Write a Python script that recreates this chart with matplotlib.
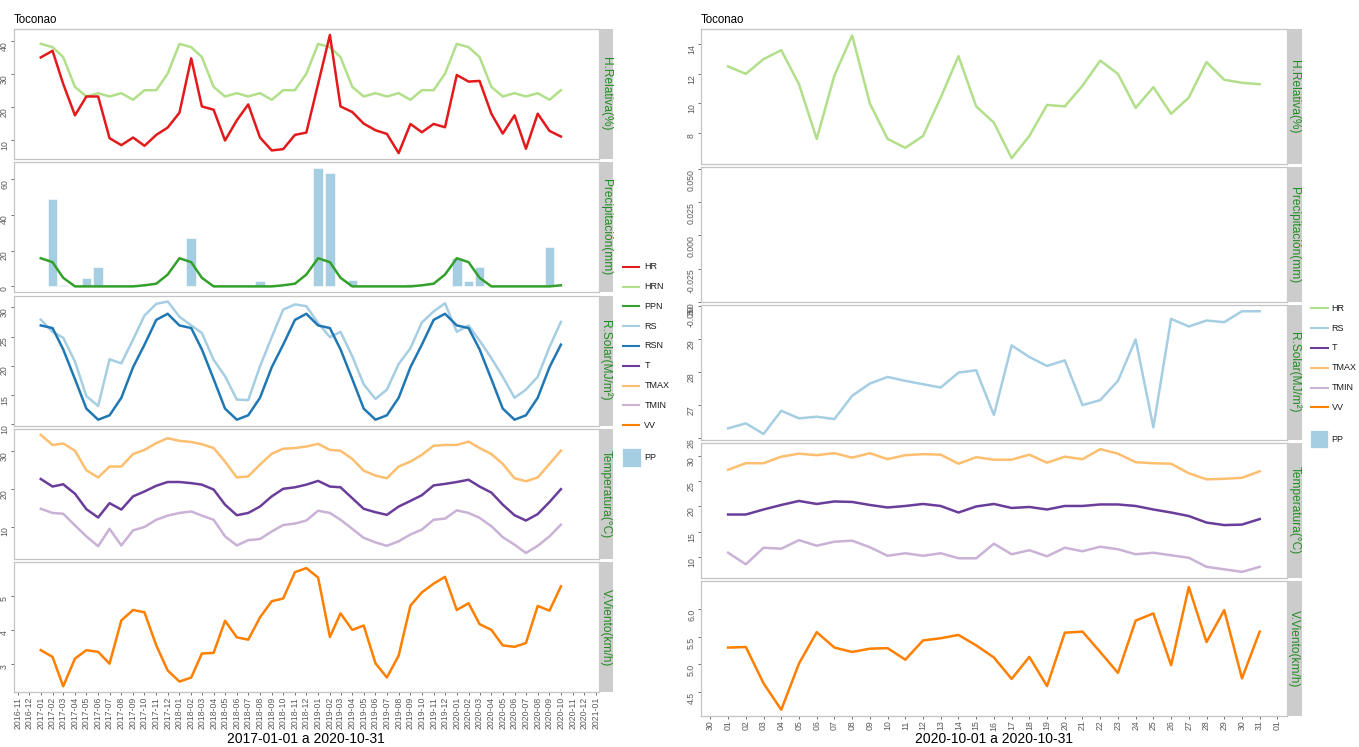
import datetime as dt
import numpy as np
import pandas as pd
import matplotlib
matplotlib.use("Agg")
import matplotlib.pyplot as plt
from matplotlib.lines import Line2D
from matplotlib.patches import Rectangle

plt.rcParams['font.family'] = ['Liberation Sans', 'DejaVu Sans']

# ---------------- monthly data (left chart) ----------------
months = pd.date_range("2017-01-01", "2020-10-01", freq="MS")
HR = [35.0, 37.0, 27.0, 17.5, 23.2, 23.2, 10.6, 8.5, 10.8, 8.3,
      11.6, 13.8, 18.3, 34.7, 20.2, 19.2, 9.9, 16.0, 20.8, 10.8,
      6.9, 7.3, 11.6, 12.3, 27.0, 41.8, 20.2, 18.5, 15.0, 13.0,
      11.9, 6.1, 14.9, 12.4, 14.9, 13.9, 29.7, 27.7, 27.9, 18.0,
      12.0, 17.5, 7.4, 18.0, 12.8, 11.1]
HRN = [39.1, 38.1, 35.1, 26.1, 23.2, 24.2, 23.2, 24.2, 22.2, 25.1, 25.1, 30.1,
       39.1, 38.1, 35.1, 26.1, 23.2, 24.2, 23.2, 24.2, 22.2, 25.1, 25.1, 30.1,
       39.1, 38.1, 35.1, 26.1, 23.2, 24.2, 23.2, 24.2, 22.2, 25.1, 25.1, 30.1,
       39.1, 38.1, 35.1, 26.1, 23.2, 24.2, 23.2, 24.2, 22.2, 25.1]
PP_months = ["2017-02-01", "2017-03-01", "2017-05-01", "2017-06-01", "2017-07-01",
             "2018-01-01", "2018-02-01", "2018-08-01", "2018-09-01", "2019-01-01",
             "2019-02-01", "2019-04-01", "2019-09-01", "2019-12-01", "2020-01-01",
             "2020-02-01", "2020-03-01", "2020-09-01"]
PP = [48.7, 0.8, 4.8, 10.7, 0.7, 0.3, 27.0, 3.0, 0.4, 65.9,
      63.5, 3.7, 1.3, 0.3, 15.7, 2.8, 10.6, 22.0]
PPN = [15.7, 13.5, 4.8, 0, 0, 0, 0, 0, 0, 0.6, 1.5, 6.6,
       15.7, 13.5, 4.8, 0, 0, 0, 0, 0, 0, 0.6, 1.5, 6.6,
       15.7, 13.5, 4.8, 0, 0, 0, 0, 0, 0, 0.6, 1.5, 6.6,
       15.7, 13.5, 4.8, 0, 0, 0, 0, 0, 0, 0.6]
RS = [27.9, 25.8, 24.8, 20.7, 14.8, 13.1, 21.1, 20.4, 24.5, 28.6,
      30.6, 31.0, 28.4, 26.9, 25.6, 21.0, 18.2, 14.2, 14.1, 19.9,
      24.9, 29.6, 30.5, 30.2, 27.3, 24.9, 25.8, 21.6, 16.8, 14.3,
      15.9, 20.3, 23.0, 27.4, 29.3, 30.7, 25.8, 26.9, 24.3, 21.3,
      18.1, 14.5, 15.9, 18.1, 23.2, 27.5]
RSN = [26.9, 26.45, 22.8, 17.7, 12.65, 10.75, 11.5, 14.5, 19.75, 23.6, 27.85, 28.9,
       26.9, 26.45, 22.8, 17.7, 12.65, 10.75, 11.5, 14.5, 19.75, 23.6, 27.85, 28.9,
       26.9, 26.45, 22.8, 17.7, 12.65, 10.75, 11.5, 14.5, 19.75, 23.6, 27.85, 28.9,
       26.9, 26.45, 22.8, 17.7, 12.65, 10.75, 11.5, 14.5, 19.75, 23.6]
TMAX = [34.3, 31.6, 32.0, 30.1, 24.9, 23.0, 25.9, 25.9, 29.2, 30.3,
        32.1, 33.4, 32.7, 32.4, 31.8, 30.8, 27.2, 23.0, 23.3, 26.4,
        29.3, 30.6, 30.8, 31.2, 31.9, 30.3, 30.1, 27.9, 24.8, 23.5,
        22.8, 25.9, 27.2, 29.0, 31.4, 31.6, 31.6, 32.5, 30.8, 29.2,
        26.6, 22.8, 22.0, 23.0, 26.6, 30.1]
T = [22.6, 20.6, 21.2, 18.7, 14.6, 12.4, 16.2, 14.5, 18.0, 19.3,
     20.8, 21.8, 21.8, 21.5, 21.1, 19.8, 15.8, 13.0, 13.6, 15.3,
     18.0, 20.0, 20.4, 21.1, 22.1, 20.6, 20.4, 17.5, 14.7, 13.8,
     13.1, 15.3, 16.8, 18.3, 20.9, 21.3, 21.8, 22.4, 20.6, 19.0,
     15.8, 13.0, 11.6, 13.3, 16.5, 19.9]
TMIN = [14.7, 13.6, 13.4, 10.3, 7.4, 4.8, 9.4, 5.0, 9.0, 9.9,
        11.8, 12.9, 13.6, 14.0, 12.9, 11.8, 7.4, 5.0, 6.4, 6.7,
        8.7, 10.4, 10.8, 11.6, 14.2, 13.6, 11.8, 9.4, 7.0, 5.8,
        4.9, 6.1, 7.9, 9.2, 11.8, 12.1, 14.3, 13.6, 12.3, 10.1,
        7.2, 5.2, 3.0, 4.9, 7.4, 10.5]
VV = [3.40, 3.20, 2.33, 3.15, 3.40, 3.35, 3.00, 4.28, 4.59, 4.52,
      3.54, 2.80, 2.47, 2.59, 3.30, 3.32, 4.27, 3.78, 3.71, 4.37,
      4.85, 4.93, 5.71, 5.83, 5.55, 3.79, 4.49, 4.00, 4.13, 3.01,
      2.59, 3.24, 4.72, 5.11, 5.37, 5.57, 4.59, 4.79, 4.17, 4.00,
      3.54, 3.50, 3.61, 4.71, 4.57, 5.29]

# ---------------- daily data (right chart) ----------------
days = pd.date_range("2020-10-01", "2020-10-31", freq="D")
HR_d = [12.5, 12.0, 13.0, 13.6, 11.3, 7.6, 11.9, 14.6, 10.0, 7.6,
        7.0, 7.8, 10.4, 13.2, 9.8, 8.7, 6.3, 7.8, 9.9, 9.8,
        11.2, 12.9, 12.0, 9.7, 11.1, 9.3, 10.4, 12.8, 11.6, 11.4, 11.3]
RS_d = [26.30, 26.45, 26.13, 26.83, 26.60, 26.65, 26.58, 27.28, 27.65, 27.85,
        27.73, 27.63, 27.53, 27.98, 28.05, 26.70, 28.80, 28.45, 28.18, 28.35,
        27.00, 27.15, 27.73, 28.98, 26.33, 29.60, 29.37, 29.55, 29.50, 29.83, 29.83]
TMAX_d = [27.3, 28.6, 28.6, 29.9, 30.5, 30.2, 30.6, 29.7, 30.6, 29.4,
          30.2, 30.4, 30.3, 28.5, 29.8, 29.3, 29.3, 30.3, 28.7, 29.9,
          29.4, 31.4, 30.5, 28.8, 28.6, 28.5, 26.6, 25.4, 25.5, 25.7, 27.0]
T_d = [18.4, 18.4, 19.4, 20.3, 21.1, 20.5, 21.0, 20.9, 20.3, 19.8,
       20.1, 20.5, 20.1, 18.8, 20.0, 20.5, 19.7, 19.9, 19.4, 20.1,
       20.1, 20.4, 20.4, 20.1, 19.4, 18.8, 18.1, 16.8, 16.3, 16.4, 17.5]
TMIN_d = [10.8, 8.5, 11.8, 11.6, 13.3, 12.2, 13.0, 13.2, 11.9, 10.2,
          10.7, 10.2, 10.7, 9.7, 9.7, 12.6, 10.5, 11.3, 10.1, 11.8,
          11.1, 12.0, 11.5, 10.5, 10.8, 10.3, 9.8, 8.0, 7.5, 7.0, 8.0]
VV_d = [5.30, 5.31, 4.65, 4.17, 5.01, 5.58, 5.30, 5.22, 5.28, 5.29,
        5.08, 5.43, 5.47, 5.53, 5.34, 5.12, 4.73, 5.13, 4.60, 5.57,
        5.59, 5.22, 4.84, 5.79, 5.92, 4.98, 6.40, 5.40, 5.98, 4.74, 5.59]

# ---------------- labels / ticks ----------------
station = "Toconao"
strip_labels = ["H.Relativa(%)", "Precipitación(mm)", "R.Solar(MJ/m²)",
                "Temperatura(°C)", "V.Viento(km/h)"]
left_yticks = [[10, 20, 30, 40], [0, 20, 40, 60], [10, 15, 20, 25, 30],
               [10, 20, 30], [3, 4, 5]]
left_yticklabels = [["10", "20", "30", "40"], ["0", "20", "40", "60"],
                    ["10", "15", "20", "25", "30"], ["10", "20", "30"], ["3", "4", "5"]]
right_yticks = [[8, 10, 12, 14], [-0.05, -0.025, 0.0, 0.025, 0.05], [26, 27, 28, 29, 30],
                [10, 15, 20, 25, 30], [4.5, 5.0, 5.5, 6.0]]
right_yticklabels = [["8", "10", "12", "14"], ["-0.050", "-0.025", "0.000", "0.025", "0.050"],
                     ["26", "27", "28", "29", "30"], ["10", "15", "20", "25", "30"],
                     ["4.5", "5.0", "5.5", "6.0"]]
left_xticks = pd.date_range("2016-11-01", "2021-01-01", freq="MS")
right_xticks = pd.date_range("2020-09-30", "2020-11-01", freq="D")
left_xtitle = "2017-01-01 a 2020-10-31"
right_xtitle = "2020-10-01 a 2020-10-31"
left_legend = ["HR", "HRN", "PPN", "RS", "RSN", "T", "TMAX", "TMIN", "VV"]
right_legend = ["HR", "RS", "T", "TMAX", "TMIN", "VV"]

COL = {"HR": "#E31A1C", "HRN": "#B2DF8A", "PPN": "#33A02C", "RS": "#A6CEE3",
       "RSN": "#1F78B4", "T": "#6A3D9A", "TMAX": "#FDBF6F", "TMIN": "#CAB2D6",
       "VV": "#FF7F00", "PP": "#A6CEE3"}
right_col = dict(COL, HR="#B2DF8A")

BORDER = "#C4C4C4"
TICK = "#5A5A5A"
STRIP = "#CCCCCC"
GREEN = "#228B22"
LW = 1.8

W, H = 1359, 747
fig = plt.figure(figsize=(W / 100, H / 100), dpi=100)


def add_px_axes(x0, y0, x1, y1):
    return fig.add_axes([x0 / W, 1 - y1 / H, (x1 - x0) / W, (y1 - y0) / H])


def expand(*series):
    vals = np.concatenate([np.asarray(s, float) for s in series])
    lo, hi = vals.min(), vals.max()
    r = hi - lo
    return lo - 0.05 * r, hi + 0.05 * r


def panel(x0, x1, y0, y1, label, yticks, yticklabels, bottom):
    ax = add_px_axes(x0, y0, x1, y1)
    for s in ax.spines.values():
        s.set_color(BORDER)
        s.set_linewidth(0.9)
    ax.tick_params(axis='both', length=2.2, width=0.6, color=TICK,
                   labelsize=6.3, labelcolor=TICK, pad=1.2)
    ax.set_yticks(yticks)
    ax.set_yticklabels(yticklabels, rotation=90, va='top', ha='right')
    if not bottom:
        ax.tick_params(axis='x', bottom=False, labelbottom=False)
    sx = add_px_axes(x1, y0, x1 + 14.5, y1)
    sx.set_facecolor(STRIP)
    sx.set_xticks([])
    sx.set_yticks([])
    for s in sx.spines.values():
        s.set_visible(False)
    sx.text(0.5, 0.5, label, rotation=270, ha='center', va='center',
            color=GREEN, fontsize=8.6, transform=sx.transAxes)
    return ax


# ---------------- left chart ----------------
LX0, LX1 = 13.8, 598.5
ltops = [29.0, 162.3, 295.6, 428.9, 562.2]
LH = 130.0
lxlim = (dt.datetime(2016, 10, 22), dt.datetime(2021, 1, 8))
mx = months.to_pydatetime()

lax = []
for i in range(5):
    ax = panel(LX0, LX1, ltops[i], ltops[i] + LH, strip_labels[i],
               left_yticks[i], left_yticklabels[i], i == 4)
    ax.set_xlim(*lxlim)
    lax.append(ax)

lax[0].plot(mx, HRN, color=COL["HRN"], lw=LW)
lax[0].plot(mx, HR, color=COL["HR"], lw=LW)
lax[0].set_ylim(*expand(HR, HRN))

pp_dates = pd.to_datetime(PP_months).to_pydatetime()
lax[1].bar(pp_dates, PP, width=dt.timedelta(days=25), color=COL["PP"],
           edgecolor="white", linewidth=0.4)
lax[1].plot(mx, PPN, color=COL["PPN"], lw=LW)
lax[1].set_ylim(*expand(PP, PPN, [0]))

lax[2].plot(mx, RS, color=COL["RS"], lw=LW)
lax[2].plot(mx, RSN, color=COL["RSN"], lw=LW)
lax[2].set_ylim(*expand(RS, RSN))

lax[3].plot(mx, TMAX, color=COL["TMAX"], lw=LW)
lax[3].plot(mx, TMIN, color=COL["TMIN"], lw=LW)
lax[3].plot(mx, T, color=COL["T"], lw=LW)
lax[3].set_ylim(*expand(TMAX, T, TMIN))

lax[4].plot(mx, VV, color=COL["VV"], lw=LW)
lax[4].set_ylim(*expand(VV))
lax[4].set_xticks(left_xticks.to_pydatetime())
lax[4].set_xticklabels([d.strftime("%Y-%m") for d in left_xticks],
                       rotation=90, ha='center', va='top')

# ---------------- right chart ----------------
RX0, RX1 = 700.8, 1287.0
rtops = [29.3, 167.2, 305.1, 443.0, 580.9]
RH = 135.0
rxlim = (dt.datetime(2020, 9, 29, 11), dt.datetime(2020, 11, 1, 13))
dx = days.to_pydatetime()

rax = []
for i in range(5):
    ax = panel(RX0, RX1, rtops[i], rtops[i] + RH, strip_labels[i],
               right_yticks[i], right_yticklabels[i], i == 4)
    ax.set_xlim(*rxlim)
    rax.append(ax)

rax[0].plot(dx, HR_d, color=right_col["HR"], lw=LW)
rax[0].set_ylim(*expand(HR_d))
rax[1].set_ylim(-0.0502, 0.0512)
rax[2].plot(dx, RS_d, color=right_col["RS"], lw=LW)
rax[2].set_ylim(*expand(RS_d))
rax[3].plot(dx, TMAX_d, color=right_col["TMAX"], lw=LW)
rax[3].plot(dx, TMIN_d, color=right_col["TMIN"], lw=LW)
rax[3].plot(dx, T_d, color=right_col["T"], lw=LW)
rax[3].set_ylim(*expand(TMAX_d, T_d, TMIN_d))
rax[4].plot(dx, VV_d, color=right_col["VV"], lw=LW)
rax[4].set_ylim(*expand(VV_d))
rax[4].set_xticks(right_xticks.to_pydatetime())
rax[4].set_xticklabels([d.strftime("%d") for d in right_xticks],
                       rotation=90, ha='center', va='top')


# ---------------- titles & legends ----------------
def ftext(x, y, s, **kw):
    fig.text(x / W, 1 - y / H, s, **kw)


ftext(LX0, 20, station, ha='left', va='center', fontsize=8.3, color='black')
ftext(RX0, 20, station, ha='left', va='center', fontsize=8.3, color='black')
ftext((LX0 + LX1) / 2, 739, left_xtitle, ha='center', va='center', fontsize=10, color='black')
ftext((RX0 + RX1) / 2, 739, right_xtitle, ha='center', va='center', fontsize=10, color='black')


def legend(items, colors, kx0, kx1, tx, y0, dy, box, box_ty):
    for k, name in enumerate(items):
        y = y0 + dy * k
        fig.add_artist(Line2D([kx0 / W, kx1 / W], [1 - y / H, 1 - y / H],
                              transform=fig.transFigure, color=colors[name], lw=1.5))
        ftext(tx, y, name, ha='left', va='center', fontsize=6.5, color='#1A1A1A')
    bx0, by0, bx1, by1 = box
    fig.add_artist(Rectangle((bx0 / W, 1 - by1 / H), (bx1 - bx0) / W, (by1 - by0) / H,
                             transform=fig.transFigure, facecolor=colors["PP"],
                             edgecolor='white', lw=0.5))
    ftext(tx, box_ty, "PP", ha='left', va='center', fontsize=6.5, color='#1A1A1A')


legend(left_legend, COL, 623, 639, 644.3, 266.7, 19.8, (622.3, 448, 640.7, 467), 457.7)
legend(right_legend, right_col, 1310.7, 1328.3, 1331.7, 308.3, 19.8,
       (1310, 430, 1328.3, 448.3), 439.3)

fig.savefig("out.png", dpi=100, facecolor="white")
